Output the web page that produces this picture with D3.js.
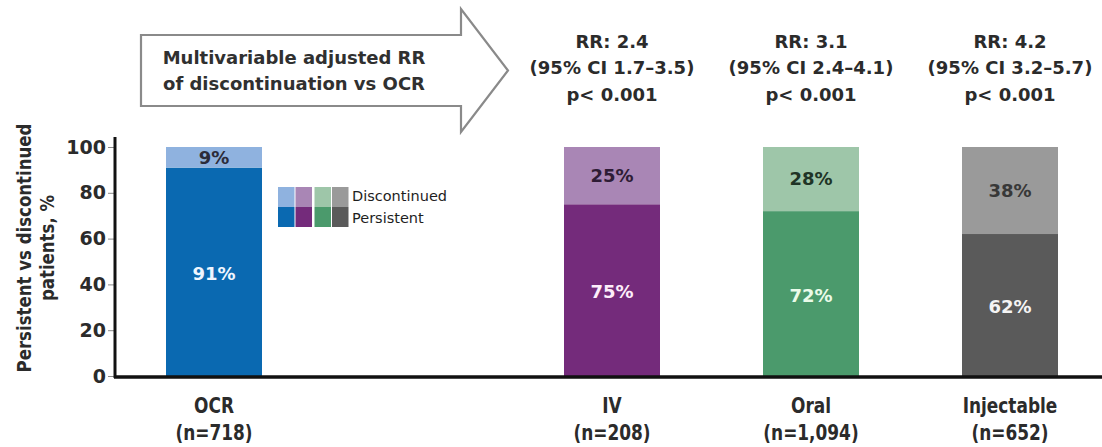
<!DOCTYPE html>
<html>
<head>
<meta charset="utf-8">
<script src="https://cdn.jsdelivr.net/npm/d3@7"></script>
<style>
  html, body { margin: 0; padding: 0; background: #fff; }
  svg { display: block; }
  text { font-family: "DejaVu Sans", "Liberation Sans", sans-serif; }
</style>
</head>
<body>
<svg id="chart" width="1102" height="447"></svg>
<script>
// ---- data ----
const categories = ["OCR", "IV", "Oral", "Injectable"];
const sampleSizes = ["(n=718)", "(n=208)", "(n=1,094)", "(n=652)"];
const persistent = [91, 75, 72, 62];
const discontinued = [9, 25, 28, 38];
const rrValues = ["RR: 2.4", "RR: 3.1", "RR: 4.2"];
const ciValues = ["(95% CI 1.7\u20133.5)", "(95% CI 2.4\u20134.1)", "(95% CI 3.2\u20135.7)"];
const pValues = ["p< 0.001", "p< 0.001", "p< 0.001"];
const yTicks = [0, 20, 40, 60, 80, 100];
const legendLabels = ["Discontinued", "Persistent"];
const arrowLines = ["Multivariable adjusted RR", "of discontinuation vs OCR"];
const yTitleLines = ["Persistent vs discontinued", "patients, %"];

// ---- colours ----
const persistentColors = ["#0a69b1", "#742b7b", "#4b9a6c", "#5a5a5a"];
const discontinuedColors = ["#8fb2df", "#a986b5", "#9ec6a9", "#9a9a9a"];
const persistentTextColors = ["#eef6ff", "#fdeefa", "#eafbe9", "#f4f4f4"];
const discontinuedTextColors = ["#2b2b3a", "#2e1c35", "#1f3426", "#383838"];
const textColor = "#2b2b2b";

const svg = d3.select("#chart");

// ---- scales ----
// one empty slot separates the reference treatment from the others
const slots = [categories[0], "", ...categories.slice(1)];
const x = d3.scaleBand()
  .domain(slots)
  .range([116.25, 1107.75])
  .paddingInner(0.5176)
  .paddingOuter(0.25);
const cx = c => x(c) + x.bandwidth() / 2;

const y = d3.scaleLinear().domain([0, 100]).range([376, 147]);

// ---- y axis ----
const yAxis = d3.axisLeft(y).tickValues(yTicks).tickSize(7).tickSizeOuter(0).tickPadding(2);
const yAxisG = svg.append("g").attr("transform", "translate(115,0)").call(yAxis);
yAxisG.select(".domain").remove();
yAxisG.selectAll(".tick line").attr("stroke", "#8a8a8a").attr("stroke-width", 1);
yAxisG.selectAll(".tick text")
  .attr("fill", textColor)
  .style("font-family", "'DejaVu Sans', sans-serif")
  .style("font-size", "19px")
  .style("font-weight", "bold");

// axis title, two rotated lines
yTitleLines.forEach((line, i) => {
  svg.append("text")
    .attr("transform", `translate(${i === 0 ? 31 : 54},248) rotate(-90) scale(0.83,1)`)
    .attr("text-anchor", "middle")
    .attr("fill", textColor)
    .style("font-size", "20px")
    .style("font-weight", "bold")
    .text(line);
});

// ---- stacked bars ----
const rows = categories.map((c, i) => ({
  cat: c, i, p: persistent[i], d: discontinued[i]
}));

const barG = svg.append("g");
barG.selectAll("rect.persistent")
  .data(rows).join("rect")
  .attr("class", "persistent")
  .attr("x", r => x(r.cat))
  .attr("width", x.bandwidth())
  .attr("y", r => y(r.p))
  .attr("height", r => y(0) - y(r.p))
  .attr("fill", r => persistentColors[r.i]);

barG.selectAll("rect.discontinued")
  .data(rows).join("rect")
  .attr("class", "discontinued")
  .attr("x", r => x(r.cat))
  .attr("width", x.bandwidth())
  .attr("y", r => y(r.p + r.d))
  .attr("height", r => y(r.p) - y(r.p + r.d))
  .attr("fill", r => discontinuedColors[r.i]);

// value labels
barG.selectAll("text.pLabel")
  .data(rows).join("text")
  .attr("class", "pLabel")
  .attr("x", r => cx(r.cat))
  .attr("y", r => y(r.p / 2) + 2)
  .attr("dy", "0.35em")
  .attr("text-anchor", "middle")
  .attr("fill", r => persistentTextColors[r.i])
  .style("font-size", "18px")
  .style("font-weight", "bold")
  .text(r => r.p + "%");

barG.selectAll("text.dLabel")
  .data(rows).join("text")
  .attr("class", "dLabel")
  .attr("x", r => cx(r.cat))
  .attr("y", r => y(r.p + r.d / 2))
  .attr("dy", "0.35em")
  .attr("text-anchor", "middle")
  .attr("fill", r => discontinuedTextColors[r.i])
  .style("font-size", "18px")
  .style("font-weight", "bold")
  .text(r => r.d + "%");

// ---- axis lines ----
svg.append("line")
  .attr("x1", 115).attr("x2", 115)
  .attr("y1", 137).attr("y2", 378)
  .attr("stroke", "#111").attr("stroke-width", 3);
svg.append("line")
  .attr("x1", 114).attr("x2", 1102)
  .attr("y1", 377).attr("y2", 377)
  .attr("stroke", "#111").attr("stroke-width", 3.5);

// ---- category labels ----
rows.forEach(r => {
  const g = svg.append("g")
    .attr("transform", `translate(${cx(r.cat)},0)`);
  [[r.cat, 405], [sampleSizes[r.i], 432]].forEach(([t, ty]) => {
    g.append("text")
      .attr("transform", `translate(0,${ty}) scale(0.77,1)`)
      .attr("dy", "0.35em")
      .attr("text-anchor", "middle")
      .attr("fill", textColor)
      .style("font-size", "22px")
      .style("font-weight", "bold")
      .text(t);
  });
});

// ---- legend ----
const legendG = svg.append("g");
const swatchX = [278, 295.5, 314.5, 332];
categories.forEach((c, i) => {
  legendG.append("rect")
    .attr("x", swatchX[i]).attr("y", 187)
    .attr("width", 16.5).attr("height", 20)
    .attr("fill", discontinuedColors[i]);
  legendG.append("rect")
    .attr("x", swatchX[i]).attr("y", 207)
    .attr("width", 16.5).attr("height", 20)
    .attr("fill", persistentColors[i]);
});
legendLabels.forEach((t, i) => {
  legendG.append("text")
    .attr("x", 352)
    .attr("y", i === 0 ? 196 : 218)
    .attr("dy", "0.35em")
    .attr("fill", "#1e1e1e")
    .style("font-size", "14.5px")
    .text(t);
});

// ---- comparison arrow ----
const arrowPath = d3.path();
arrowPath.moveTo(141, 35);
arrowPath.lineTo(461, 35);
arrowPath.lineTo(461, 9);
arrowPath.lineTo(508, 70.5);
arrowPath.lineTo(461, 132);
arrowPath.lineTo(461, 106);
arrowPath.lineTo(141, 106);
arrowPath.closePath();
svg.append("path")
  .attr("d", arrowPath.toString())
  .attr("fill", "#fff")
  .attr("stroke", "#8a8a8a")
  .attr("stroke-width", 2.2)
  .attr("stroke-linejoin", "miter");

arrowLines.forEach((t, i) => {
  svg.append("text")
    .attr("x", 294)
    .attr("y", i === 0 ? 58 : 84)
    .attr("dy", "0.35em")
    .attr("text-anchor", "middle")
    .attr("fill", "#303030")
    .style("font-size", "18px")
    .style("font-weight", "bold")
    .text(t);
});

// ---- relative risk annotations ----
categories.slice(1).forEach((c, i) => {
  [[rrValues[i], 42], [ciValues[i], 68], [pValues[i], 95]].forEach(([t, ty]) => {
    svg.append("text")
      .attr("x", cx(c))
      .attr("y", ty)
      .attr("dy", "0.35em")
      .attr("text-anchor", "middle")
      .attr("fill", textColor)
      .style("font-size", "18px")
      .style("font-weight", "bold")
      .text(t);
  });
});
</script>
</body>
</html>
